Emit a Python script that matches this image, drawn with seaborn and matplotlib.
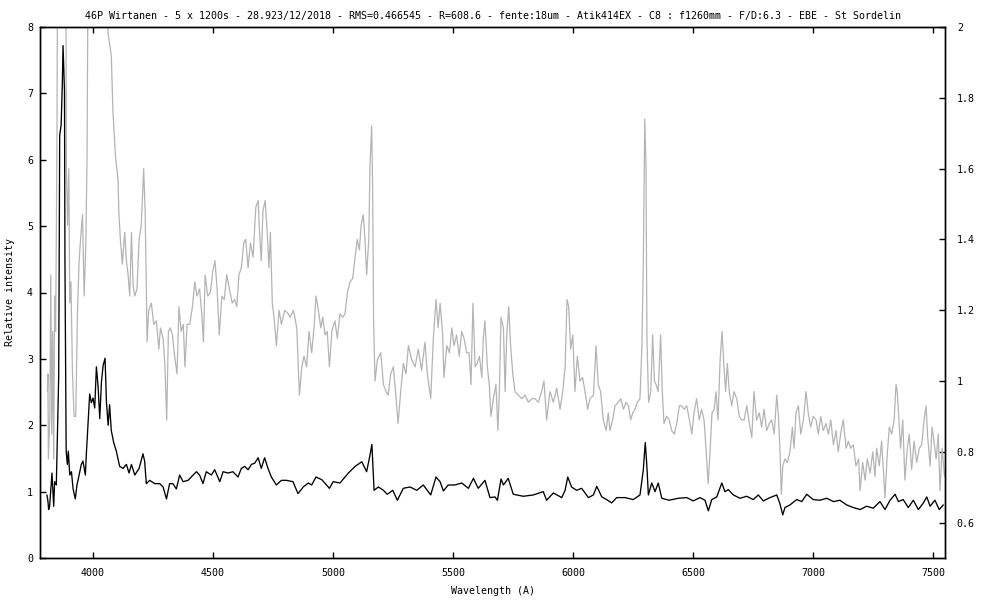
import seaborn as sns
import matplotlib.pyplot as plt

# black spectrum (left axis)
black_wl = [3808, 3812, 3815, 3819, 3829, 3836, 3840, 3847, 3851, 3857, 3861, 3867, 3872, 3875, 3878,
            3881, 3883, 3888, 3893, 3897, 3903, 3910, 3917, 3926, 3933, 3942, 3951, 3958, 3968, 3972,
            3979, 3986, 3993, 4000, 4007, 4014, 4021, 4028, 4035, 4042, 4050, 4056, 4063, 4069, 4076,
            4086, 4097, 4111, 4125, 4139, 4150, 4160, 4174, 4192, 4208, 4215, 4222, 4236, 4257, 4278,
            4292, 4306, 4319, 4333, 4347, 4361, 4375, 4396, 4417, 4431, 4444, 4458, 4472, 4493, 4507,
            4528, 4542, 4563, 4583, 4604, 4618, 4632, 4646, 4660, 4674, 4688, 4701, 4715, 4729, 4743,
            4764, 4785, 4806, 4833, 4854, 4876, 4897, 4911, 4929, 4953, 4985, 5001, 5029, 5064, 5092,
            5120, 5140, 5154, 5162, 5171, 5189, 5210, 5226, 5249, 5268, 5293, 5321, 5349, 5376, 5407,
            5429, 5446, 5460, 5480, 5508, 5536, 5564, 5585, 5605, 5633, 5654, 5675, 5685, 5700, 5710,
            5730, 5751, 5793, 5835, 5876, 5890, 5918, 5953, 5967, 5978, 5994, 6015, 6036, 6064, 6085,
            6099, 6120, 6140, 6161, 6182, 6217, 6251, 6279, 6293, 6301, 6307, 6314, 6328, 6342, 6355,
            6370, 6400, 6439, 6474, 6501, 6529, 6550, 6564, 6578, 6599, 6620, 6633, 6647, 6668, 6696,
            6724, 6751, 6772, 6793, 6821, 6849, 6862, 6874, 6883, 6904, 6932, 6953, 6974, 7001, 7029,
            7057, 7085, 7112, 7140, 7168, 7196, 7224, 7251, 7279, 7300, 7321, 7342, 7356, 7376, 7397,
            7418, 7439, 7460, 7474, 7488, 7508, 7526, 7543]
black_val = [0.95, 0.86, 0.73, 0.78, 1.28, 0.78, 1.15, 1.10, 1.77, 2.75, 6.37, 6.52, 7.14, 7.72, 7.40,
             7.04, 4.45, 1.61, 1.41, 1.61, 1.25, 1.30, 1.04, 0.89, 1.10, 1.25, 1.41, 1.46, 1.25, 1.56,
             2.03, 2.47, 2.34, 2.41, 2.26, 2.88, 2.59, 2.10, 2.65, 2.90, 3.01, 2.34, 2.00, 2.31, 1.92,
             1.74, 1.61, 1.38, 1.35, 1.41, 1.28, 1.41, 1.25, 1.35, 1.57, 1.46, 1.12, 1.17, 1.12, 1.12,
             1.07, 0.89, 1.12, 1.12, 1.04, 1.25, 1.15, 1.17, 1.25, 1.30, 1.25, 1.12, 1.30, 1.25, 1.33,
             1.15, 1.30, 1.28, 1.30, 1.22, 1.35, 1.38, 1.33, 1.41, 1.43, 1.51, 1.35, 1.51, 1.35, 1.22,
             1.10, 1.17, 1.17, 1.15, 0.97, 1.07, 1.13, 1.10, 1.22, 1.18, 1.05, 1.15, 1.13, 1.28, 1.38,
             1.45, 1.30, 1.55, 1.71, 1.02, 1.07, 1.02, 0.96, 1.02, 0.87, 1.05, 1.07, 1.02, 1.10, 0.95,
             1.22, 1.15, 1.01, 1.10, 1.10, 1.13, 1.05, 1.20, 1.05, 1.17, 0.91, 0.92, 0.87, 1.19, 1.10,
             1.20, 0.96, 0.93, 0.95, 1.00, 0.87, 0.98, 0.91, 1.02, 1.22, 1.07, 1.02, 1.05, 0.91, 0.95,
             1.08, 0.92, 0.88, 0.83, 0.91, 0.91, 0.88, 0.95, 1.33, 1.74, 1.43, 0.95, 1.13, 1.00, 1.13,
             0.90, 0.87, 0.90, 0.91, 0.86, 0.91, 0.87, 0.71, 0.88, 0.92, 1.13, 1.00, 1.03, 0.95, 0.90,
             0.93, 0.88, 0.95, 0.86, 0.91, 0.95, 0.82, 0.65, 0.76, 0.80, 0.88, 0.85, 0.96, 0.88, 0.87,
             0.90, 0.85, 0.87, 0.80, 0.76, 0.73, 0.78, 0.75, 0.85, 0.73, 0.87, 0.96, 0.85, 0.88, 0.76,
             0.87, 0.73, 0.83, 0.92, 0.78, 0.87, 0.73, 0.80]

# grey spectrum (right axis)
gray_wl = [3810, 3812, 3814, 3820, 3824, 3828, 3832, 3836, 3840, 3844, 3847, 3850, 3853, 3870, 3886,
           3889, 3894, 3899, 3903, 3908, 3914, 3921, 3928, 3935, 3942, 3949, 3956, 3963, 3970, 3975,
           3981, 4020, 4063, 4076, 4083, 4094, 4104, 4108, 4114, 4122, 4132, 4139, 4146, 4153, 4160,
           4167, 4174, 4183, 4192, 4201, 4211, 4217, 4222, 4225, 4232, 4243, 4253, 4264, 4274, 4281,
           4292, 4299, 4307, 4314, 4322, 4331, 4340, 4350, 4358, 4367, 4376, 4383, 4392, 4403, 4414,
           4424, 4433, 4444, 4453, 4460, 4467, 4478, 4489, 4499, 4508, 4517, 4526, 4537, 4547, 4557,
           4568, 4580, 4590, 4599, 4608, 4618, 4628, 4636, 4646, 4656, 4667, 4678, 4688, 4694, 4701,
           4708, 4717, 4725, 4733, 4739, 4747, 4757, 4764, 4775, 4785, 4799, 4813, 4821, 4835, 4849,
           4860, 4870, 4879, 4890, 4900, 4911, 4921, 4929, 4939, 4949, 4957, 4967, 4976, 4985, 4995,
           5008, 5018, 5029, 5040, 5050, 5060, 5071, 5082, 5092, 5101, 5110, 5117, 5126, 5133, 5140,
           5149, 5154, 5161, 5165, 5169, 5175, 5185, 5199, 5210, 5221, 5230, 5240, 5251, 5263, 5271,
           5282, 5293, 5304, 5314, 5328, 5342, 5355, 5369, 5383, 5393, 5407, 5418, 5429, 5438, 5446,
           5457, 5462, 5474, 5485, 5495, 5504, 5515, 5526, 5536, 5546, 5557, 5567, 5575, 5583, 5592,
           5601, 5610, 5620, 5626, 5633, 5643, 5651, 5658, 5668, 5679, 5687, 5693, 5700, 5710, 5717,
           5724, 5732, 5740, 5749, 5758, 5772, 5786, 5800, 5814, 5828, 5842, 5855, 5869, 5879, 5890,
           5904, 5918, 5932, 5946, 5957, 5967, 5975, 5982, 5990, 5999, 6008, 6018, 6029, 6040, 6050,
           6061, 6071, 6085, 6096, 6105, 6115, 6126, 6138, 6147, 6154, 6165, 6175, 6189, 6199, 6210,
           6221, 6231, 6240, 6249, 6258, 6268, 6279, 6287, 6293, 6299, 6304, 6308, 6315, 6324, 6332,
           6339, 6346, 6355, 6365, 6372, 6379, 6390, 6401, 6411, 6422, 6432, 6443, 6453, 6463, 6474,
           6485, 6495, 6504, 6515, 6526, 6536, 6546, 6554, 6563, 6571, 6579, 6588, 6596, 6604, 6613,
           6621, 6628, 6636, 6643, 6651, 6661, 6671, 6682, 6693, 6703, 6713, 6724, 6735, 6745, 6754,
           6765, 6776, 6786, 6796, 6807, 6818, 6828, 6838, 6849, 6856, 6862, 6868, 6874, 6883, 6893,
           6904, 6914, 6921, 6929, 6939, 6949, 6960, 6971, 6980, 6990, 7001, 7013, 7022, 7032, 7043,
           7054, 7064, 7074, 7085, 7096, 7105, 7115, 7126, 7138, 7147, 7157, 7168, 7179, 7190, 7196,
           7207, 7217, 7226, 7238, 7249, 7258, 7265, 7276, 7286, 7293, 7300, 7310, 7318, 7328, 7338,
           7346, 7351, 7358, 7365, 7374, 7383, 7393, 7401, 7411, 7421, 7432, 7443, 7453, 7463, 7471,
           7478, 7488, 7496, 7504, 7513, 7522, 7529, 7538, 7548]
gray_val = [0.97, 1.02, 0.78, 0.90, 1.30, 0.85, 1.14, 0.78, 1.24, 1.14, 1.40, 1.73, 2.40, 2.60, 2.40,
            1.60, 1.44, 1.60, 1.22, 1.28, 1.03, 0.90, 0.90, 1.19, 1.34, 1.41, 1.47, 1.24, 1.39, 1.63,
            2.40, 2.60, 1.98, 1.92, 1.76, 1.63, 1.57, 1.47, 1.40, 1.33, 1.42, 1.34, 1.30, 1.24, 1.42,
            1.27, 1.24, 1.26, 1.40, 1.44, 1.60, 1.48, 1.27, 1.11, 1.20, 1.22, 1.16, 1.17, 1.09, 1.15,
            1.12, 1.05, 0.89, 1.14, 1.15, 1.13, 1.07, 1.02, 1.21, 1.14, 1.16, 1.04, 1.16, 1.16, 1.21,
            1.28, 1.24, 1.26, 1.19, 1.11, 1.30, 1.24, 1.25, 1.31, 1.34, 1.26, 1.13, 1.24, 1.23, 1.30,
            1.26, 1.22, 1.23, 1.21, 1.30, 1.32, 1.39, 1.40, 1.32, 1.39, 1.35, 1.49, 1.51, 1.42, 1.34,
            1.48, 1.51, 1.43, 1.32, 1.42, 1.22, 1.16, 1.10, 1.20, 1.16, 1.20, 1.19, 1.18, 1.20, 1.15,
            0.96, 1.04, 1.07, 1.04, 1.14, 1.08, 1.15, 1.24, 1.20, 1.15, 1.18, 1.13, 1.14, 1.04, 1.14,
            1.17, 1.12, 1.19, 1.18, 1.19, 1.25, 1.28, 1.29, 1.35, 1.40, 1.37, 1.44, 1.47, 1.40, 1.30,
            1.40, 1.61, 1.72, 1.54, 1.17, 1.00, 1.06, 1.08, 0.99, 0.97, 0.96, 1.02, 1.04, 0.95, 0.88,
            0.97, 1.05, 1.02, 1.10, 1.06, 1.04, 1.09, 1.03, 1.11, 1.02, 0.95, 1.12, 1.23, 1.15, 1.22,
            1.13, 1.01, 1.10, 1.08, 1.15, 1.10, 1.13, 1.07, 1.14, 1.12, 1.08, 1.08, 0.99, 1.22, 1.04,
            1.05, 1.07, 1.01, 1.12, 1.17, 1.04, 0.99, 0.90, 0.95, 0.99, 0.86, 0.97, 1.18, 1.15, 0.97,
            1.13, 1.21, 1.10, 1.02, 0.97, 0.96, 0.95, 0.96, 0.94, 0.95, 0.95, 0.94, 0.97, 1.00, 0.89,
            0.97, 0.94, 0.98, 0.92, 0.97, 1.04, 1.23, 1.21, 1.09, 1.13, 0.97, 1.07, 1.00, 1.01, 0.97,
            0.92, 0.95, 0.96, 1.10, 0.99, 0.97, 0.89, 0.86, 0.91, 0.86, 0.89, 0.93, 0.94, 0.95, 0.92,
            0.94, 0.93, 0.89, 0.91, 0.92, 0.94, 0.95, 1.10, 1.34, 1.74, 1.61, 1.12, 0.94, 0.97, 1.13,
            1.00, 0.99, 0.97, 1.13, 0.97, 0.88, 0.90, 0.89, 0.86, 0.85, 0.88, 0.93, 0.93, 0.92, 0.93,
            0.89, 0.85, 0.91, 0.95, 0.89, 0.92, 0.89, 0.81, 0.71, 0.80, 0.91, 0.92, 0.97, 0.89, 1.06,
            1.14, 1.05, 0.97, 1.05, 0.97, 0.93, 0.97, 0.95, 0.90, 0.89, 0.89, 0.93, 0.88, 0.84, 0.97,
            0.89, 0.91, 0.87, 0.92, 0.86, 0.88, 0.89, 0.85, 0.96, 0.90, 0.81, 0.68, 0.76, 0.78, 0.77,
            0.80, 0.87, 0.81, 0.91, 0.93, 0.85, 0.89, 0.97, 0.91, 0.87, 0.90, 0.89, 0.85, 0.90, 0.86,
            0.88, 0.85, 0.89, 0.82, 0.86, 0.80, 0.85, 0.89, 0.81, 0.83, 0.81, 0.82, 0.76, 0.78, 0.69,
            0.77, 0.72, 0.78, 0.74, 0.80, 0.73, 0.81, 0.76, 0.83, 0.75, 0.67, 0.80, 0.87, 0.85, 0.89,
            0.99, 0.97, 0.89, 0.81, 0.89, 0.72, 0.81, 0.85, 0.75, 0.83, 0.77, 0.81, 0.82, 0.89, 0.93,
            0.84, 0.76, 0.87, 0.83, 0.78, 0.85, 0.69, 0.81, 0.73]

xticks = [4000, 4500, 5000, 5500, 6000, 6500, 7000, 7500]
left_ticks = [0, 1, 2, 3, 4, 5, 6, 7, 8]
right_ticks = [0.6, 0.8, 1, 1.2, 1.4, 1.6, 1.8, 2]

title = ("46P Wirtanen - 5 x 1200s - 28.923/12/2018 - RMS=0.466545 - R=608.6 - fente:18um - "
         "Atik414EX - C8 : f1260mm - F/D:6.3 - EBE - St Sordelin")

sns.set_theme(style="ticks", rc={"axes.edgecolor": "black", "text.color": "black",
                                 "xtick.color": "black", "ytick.color": "black",
                                 "axes.labelcolor": "black", "axes.linewidth": 1.0})
plt.rcParams['font.family'] = ['DejaVu Sans Mono']

fig = plt.figure(figsize=(10, 6), dpi=100)
ax = fig.add_axes([0.04, 0.07, 0.905, 0.885])
ax2 = ax.twinx()

# grey on the base axes so the black curve is drawn over it
sns.lineplot(x=gray_wl, y=gray_val, ax=ax, color="#b4b4b4", lw=0.9, estimator=None, sort=False)
sns.lineplot(x=black_wl, y=black_val, ax=ax2, color="black", lw=0.95, estimator=None, sort=False)

ax.set_xlim(3779, 7550)
ax.set_ylim(0.5, 2)
ax2.set_ylim(0, 8)

ax.set_xticks(xticks)
ax.set_xticklabels([str(t) for t in xticks])
ax.set_yticks(right_ticks)
ax.set_yticklabels(["%g" % t for t in right_ticks])
ax2.set_yticks(left_ticks)
ax2.set_yticklabels([str(t) for t in left_ticks])

fs = 7.2
ax.tick_params(axis="x", direction="in", top=True, bottom=True, length=4.5, width=1, pad=7, labelsize=fs)
ax.tick_params(axis="y", direction="in", left=False, right=True, labelleft=False, labelright=True,
               length=4.5, width=1, pad=8.5, labelsize=fs)
ax2.tick_params(axis="y", direction="in", left=True, right=False, labelleft=True, labelright=False,
                length=4.5, width=1, pad=5, labelsize=fs)
ax2.yaxis.set_label_position("left")

ax.set_xlabel("Wavelength (A)", fontsize=fs, labelpad=6)
ax.set_ylabel("")
ax2.set_ylabel("Relative intensity", fontsize=fs, labelpad=9)
ax.set_title(title, fontsize=fs, pad=6)

fig.savefig("out.png", dpi=100)
